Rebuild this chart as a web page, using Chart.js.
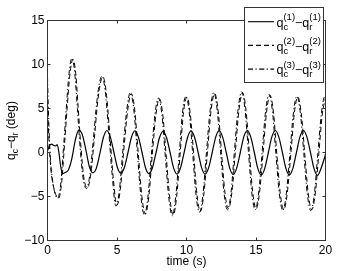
<!DOCTYPE html>
<html><head><meta charset="utf-8">
<script src="https://cdn.jsdelivr.net/npm/chart.js@4"></script>
<style>html,body{margin:0;padding:0;background:#fff}canvas{display:block}</style>
</head><body>
<canvas id="c" width="360" height="271" style="width:360px;height:271px"></canvas>
<script>
const xTicks = [0, 5, 10, 15, 20];
const yTicks = [-10, -5, 0, 5, 10, 15];
const xTitle = "time (s)";
const legendSup = ["(1)", "(2)", "(3)"];

// series 1 (solid)
const t1 = [0,0.15,0.3,0.45,0.6,0.7,0.82,0.95,1.1,1.3,1.5,1.75,2.0,2.25,2.5,2.76,3.01,3.26,3.51,3.77,4.02,4.27,4.52,4.78,5.03,5.28,5.53,5.79,6.04,6.29,6.54,6.80,7.05,7.30,7.55,7.81,8.06,8.31,8.56,8.82,9.07,9.32,9.57,9.83,10.08,10.33,10.58,10.84,11.09,11.34,11.59,11.85,12.10,12.35,12.60,12.86,13.11,13.36,13.61,13.87,14.12,14.37,14.62,14.88,15.13,15.38,15.63,15.89,16.14,16.39,16.64,16.90,17.15,17.40,17.65,17.91,18.16,18.41,18.66,18.92,19.17,19.42,19.67,19.93,20];
const v1 = [0.2,0.8,0.95,0.8,0.75,0.9,0.0,-1.6,-2.4,-2.25,-2.0,-0.7,1.4,2.55,2.05,0.3,-1.6,-2.3,-1.8,-0.1,1.7,2.5,1.75,0.0,-1.7,-2.35,-1.7,0.0,1.73,2.45,1.73,0.0,-1.73,-2.4,-1.73,0.0,1.7,2.4,1.7,0.0,-1.75,-2.45,-1.75,0.0,1.73,2.45,1.73,0.0,-1.75,-2.45,-1.75,0.0,1.75,2.5,1.75,0.0,-1.77,-2.5,-1.77,0.0,1.77,2.5,1.77,0.0,-1.8,-2.55,-1.8,0.0,1.77,2.5,1.77,0.0,-1.8,-2.55,-1.8,0.0,1.77,2.5,1.77,0.0,-1.8,-2.6,-1.85,-0.6,-0.2];

// series 2 (dashed)
const t2 = [0,0.1,0.25,0.42,0.6,0.8,1.02,1.22,1.42,1.62,1.83,2.03,2.22,2.42,2.62,2.87,3.12,3.37,3.62,3.82,3.99,4.22,4.47,4.72,4.99,5.24,5.49,5.77,6.02,6.27,6.52,6.79,7.04,7.29,7.54,7.8,8.05,8.3,8.55,8.8,9.05,9.29,9.54,9.78,10.03,10.27,10.52,10.76,11.0,11.25,11.51,11.77,12.03,12.28,12.52,12.77,13.01,13.27,13.52,13.78,14.04,14.28,14.52,14.77,15.01,15.26,15.51,15.76,16.01,16.26,16.5,16.75,17.0,17.25,17.51,17.76,18.01,18.26,18.51,18.76,19.01,19.27,19.52,19.78,20];
const v2 = [5.5,1.5,-2.0,-3.8,-4.8,-5.2,-3.4,0.8,5.2,9.0,10.6,9.0,4.8,0.3,-2.9,-4.0,-2.4,1.6,5.9,8.0,8.6,6.9,2.3,-2.7,-6.0,-4.2,0.3,4.8,6.7,4.9,0.1,-5.0,-7.0,-5.0,-0.2,4.3,6.1,4.2,-0.6,-5.2,-7.1,-5.0,-0.2,4.5,6.3,4.4,-0.3,-4.9,-6.7,-4.7,0.1,4.8,6.7,4.7,0.0,-4.6,-6.4,-4.5,0.2,4.9,6.8,4.8,0.1,-4.6,-6.4,-4.5,0.0,4.6,6.5,4.5,-0.2,-4.7,-6.5,-4.6,-0.1,4.5,6.3,4.4,-0.2,-4.7,-6.5,-4.6,-0.1,4.5,6.2];

// series 3 (dash-dot)
const t3 = [0,0.08,0.2,0.35,0.5,0.72,0.95,1.15,1.35,1.55,1.75,1.95,2.15,2.35,2.55,2.8,3.05,3.3,3.55,3.75,3.92,4.15,4.4,4.65,4.92,5.17,5.42,5.7,5.95,6.2,6.45,6.72,6.97,7.22,7.47,7.73,7.98,8.23,8.48,8.73,8.98,9.22,9.47,9.71,9.96,10.2,10.45,10.69,10.93,11.18,11.44,11.7,11.96,12.21,12.45,12.7,12.94,13.2,13.45,13.71,13.97,14.21,14.45,14.7,14.94,15.19,15.44,15.69,15.94,16.19,16.43,16.68,16.93,17.18,17.44,17.69,17.94,18.19,18.44,18.69,18.94,19.2,19.45,19.71,19.96,20];
const v3 = [8.6,4.0,-0.5,-3.0,-4.4,-5.2,-3.6,0.5,5.0,9.0,10.7,9.2,5.0,0.5,-2.8,-4.1,-2.5,1.5,5.8,8.0,8.7,7.0,2.5,-2.5,-6.1,-4.3,0.2,4.8,6.8,5.0,0.3,-5.0,-7.1,-5.1,-0.3,4.3,6.2,4.3,-0.5,-5.2,-7.2,-5.1,-0.3,4.5,6.4,4.5,-0.2,-4.9,-6.8,-4.8,0.1,4.8,6.8,4.8,0.1,-4.6,-6.5,-4.6,0.2,4.9,6.9,4.9,0.2,-4.6,-6.5,-4.6,0.0,4.7,6.6,4.6,-0.1,-4.7,-6.6,-4.7,-0.1,4.5,6.4,4.5,-0.1,-4.7,-6.6,-4.7,-0.1,4.5,6.4,6.3];

const FONT = '"Liberation Sans", Arial, Helvetica, sans-serif';
const DASH = [5, 3];
const DASHDOT = [5, 2.5, 1.2, 2.5];

function pts(t, v) { return t.map((x, i) => ({x: x, y: v[i]})); }

function ds(t, v, dash, w) {
  return {data: pts(t, v), borderColor: '#000', borderWidth: w, borderDash: dash,
    pointRadius: 0, fill: false, cubicInterpolationMode: 'monotone'};
}

function drawScripted(ctx, x, base, main, sup, sub, big, small) {
  ctx.font = big + 'px ' + FONT;
  ctx.fillText(main, x, base);
  x += ctx.measureText(main).width;
  ctx.font = small + 'px ' + FONT;
  let w = 0;
  if (sup) { ctx.fillText(sup, x, base - 6.7); w = Math.max(w, ctx.measureText(sup).width); }
  if (sub) { ctx.fillText(sub, x, base + 3); w = Math.max(w, ctx.measureText(sub).width); }
  return x + w;
}

const frame = {
  id: 'frame',
  afterDraw(chart) {
    const {ctx, chartArea: a, scales: {x, y}} = chart;
    ctx.save();
    ctx.setLineDash([]);
    ctx.strokeStyle = '#333';
    ctx.lineWidth = 1;
    ctx.strokeRect(a.left, a.top, a.right - a.left, a.bottom - a.top);
    ctx.beginPath();
    xTicks.forEach(v => {
      const p = Math.round(x.getPixelForValue(v) - 0.5) + 0.5;
      ctx.moveTo(p, a.bottom); ctx.lineTo(p, a.bottom - 3);
      ctx.moveTo(p, a.top); ctx.lineTo(p, a.top + 3);
    });
    yTicks.forEach(v => {
      const p = Math.round(y.getPixelForValue(v) - 0.5) + 0.5;
      ctx.moveTo(a.left, p); ctx.lineTo(a.left + 3, p);
      ctx.moveTo(a.right, p); ctx.lineTo(a.right - 3, p);
    });
    ctx.stroke();

    // legend
    ctx.fillStyle = '#fff';
    ctx.fillRect(244.5, 7.5, 79, 75);
    ctx.strokeStyle = '#333';
    ctx.strokeRect(244.5, 7.5, 79, 75);
    const rows = [21.7, 45.4, 69.1];
    const dashes = [[], DASH, DASHDOT];
    ctx.fillStyle = '#000';
    ctx.textBaseline = 'alphabetic';
    ctx.textAlign = 'left';
    rows.forEach((ry, i) => {
      ctx.save();
      ctx.strokeStyle = '#000';
      ctx.lineWidth = 1.1;
      ctx.setLineDash(dashes[i]);
      ctx.beginPath(); ctx.moveTo(248, ry); ctx.lineTo(274, ry); ctx.stroke();
      ctx.restore();
      const b = ry + 5.3;
      let xx = drawScripted(ctx, 276.5, b, 'q', legendSup[i], 'c', 12.5, 9.5);
      xx = drawScripted(ctx, xx, b, '\u2212q', legendSup[i], 'r', 12.5, 9.5);
    });

    // y title
    ctx.save();
    ctx.translate(15, (a.top + a.bottom) / 2);
    ctx.rotate(-Math.PI / 2);
    const parts = [['q', 12], ['c', 8.5, 3], ['\u2212q', 12], ['r', 8.5, 3], [' (deg)', 12]];
    let total = 0;
    parts.forEach(p => { ctx.font = p[1] + 'px ' + FONT; total += ctx.measureText(p[0]).width; });
    let xx = -total / 2;
    parts.forEach(p => {
      ctx.font = p[1] + 'px ' + FONT;
      ctx.fillText(p[0], xx, p[2] || 0);
      xx += ctx.measureText(p[0]).width;
    });
    ctx.restore();
    ctx.restore();
  }
};

Chart.defaults.font.family = FONT;
Chart.defaults.color = '#000';

new Chart(document.getElementById('c'), {
  type: 'line',
  data: {datasets: [ds(t1, v1, [], 1.2), ds(t2, v2, DASH, 1.0), ds(t3, v3, DASHDOT, 1.0)]},
  options: {
    responsive: false,
    animation: false,
    devicePixelRatio: 1,
    layout: {padding: {top: 20.5, right: 34.5, left: 0, bottom: 0}},
    plugins: {legend: {display: false}, tooltip: {enabled: false}},
    scales: {
      x: {
        type: 'linear', min: 0, max: 20,
        afterBuildTicks: s => { s.ticks = xTicks.map(v => ({value: v})); },
        afterFit: s => { s.height = 30.5; },
        grid: {display: false, drawTicks: false, tickLength: 0},
        border: {display: false},
        ticks: {padding: 2.5, font: {size: 12}, color: '#000', maxRotation: 0,
          callback: v => String(v).replace('-', '\u2212')},
        title: {display: true, text: xTitle, font: {size: 12}, color: '#000', padding: {top: 0, bottom: 2.5}}
      },
      y: {
        type: 'linear', min: -10, max: 15,
        afterBuildTicks: s => { s.ticks = yTicks.map(v => ({value: v})); },
        afterFit: s => { s.width = 47.5; },
        grid: {display: false, drawTicks: false, tickLength: 0},
        border: {display: false},
        ticks: {padding: 3, font: {size: 12}, color: '#000',
          callback: v => String(v).replace('-', '\u2212')}
      }
    }
  },
  plugins: [frame]
});
</script>
</body></html>
